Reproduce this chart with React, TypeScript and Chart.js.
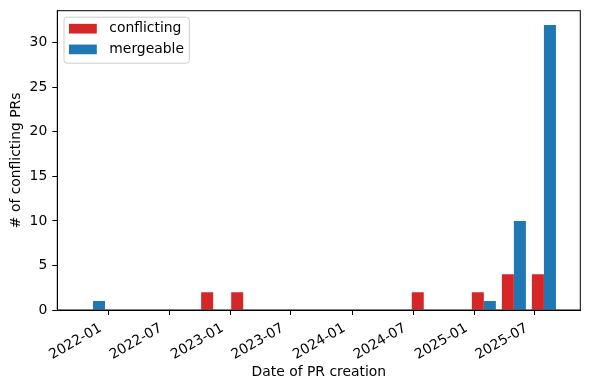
import React, { useEffect, useRef } from 'react';
import { Chart, registerables } from 'chart.js';

Chart.register(...registerables);

// Histogram bin centers (dates) and counts per bin
const binCenters = [
  '2021-11-15', '2022-02-13', '2022-05-14', '2022-08-12',
  '2022-11-10', '2023-02-08', '2023-05-09', '2023-08-07',
  '2023-11-06', '2024-02-04', '2024-05-04', '2024-08-02',
  '2024-10-31', '2025-01-29', '2025-04-29', '2025-07-28',
];
const conflicting = [0, 0, 0, 0, 2, 2, 0, 0, 0, 0, 0, 2, 0, 2, 4, 4];
const mergeable = [1, 0, 0, 0, 0, 0, 0, 0, 0, 0, 0, 0, 0, 1, 10, 32];

const xTickDates = [
  '2022-01-01', '2022-07-01', '2023-01-01', '2023-07-01',
  '2024-01-01', '2024-07-01', '2025-01-01', '2025-07-01',
];
const xTickLabels = [
  '2022-01', '2022-07', '2023-01', '2023-07',
  '2024-01', '2024-07', '2025-01', '2025-07',
];
const xRange = ['2021-07-31', '2025-11-14'];
const yTickValues = [0, 5, 10, 15, 20, 25, 30];
const yMax = 33.6;

const seriesNames = ['conflicting', 'mergeable'];
const seriesColors = ['#d62728', '#1f77b4'];

const DAY = 86400000;
const toDay = (s: string) => Date.parse(s + 'T00:00:00Z') / DAY;

const FONT = '"DejaVu Sans", sans-serif';
const FS = 13.9;

const framePlugin = {
  id: 'frame',
  afterDatasetsDraw(chart: any) {
    const { ctx, chartArea: a } = chart;
    ctx.save();
    ctx.strokeStyle = '#000';
    ctx.lineWidth = 1;
    ctx.strokeRect(a.left, a.top, a.right - a.left, a.bottom - a.top);
    ctx.restore();
  },
};

const legendPlugin = {
  id: 'innerLegend',
  afterDraw(chart: any) {
    const { ctx, chartArea: a } = chart;
    const x0 = a.left + 6.7;
    const y0 = a.top + 6.5;
    const w = 125.3;
    const h = 46;
    const r = 3;
    ctx.save();
    ctx.beginPath();
    ctx.moveTo(x0 + r, y0);
    ctx.lineTo(x0 + w - r, y0);
    ctx.quadraticCurveTo(x0 + w, y0, x0 + w, y0 + r);
    ctx.lineTo(x0 + w, y0 + h - r);
    ctx.quadraticCurveTo(x0 + w, y0 + h, x0 + w - r, y0 + h);
    ctx.lineTo(x0 + r, y0 + h);
    ctx.quadraticCurveTo(x0, y0 + h, x0, y0 + h - r);
    ctx.lineTo(x0, y0 + r);
    ctx.quadraticCurveTo(x0, y0, x0 + r, y0);
    ctx.closePath();
    ctx.fillStyle = 'rgba(255,255,255,0.8)';
    ctx.fill();
    ctx.strokeStyle = '#cccccc';
    ctx.lineWidth = 1;
    ctx.stroke();
    ctx.font = `${FS}px ${FONT}`;
    ctx.textBaseline = 'middle';
    ctx.textAlign = 'left';
    chart.data.datasets.forEach((ds: any, i: number) => {
      const cy = y0 + 11.5 + i * 20.7;
      ctx.fillStyle = ds.backgroundColor;
      ctx.fillRect(x0 + 5, cy - 4.85, 27.8, 9.7);
      ctx.fillStyle = '#000';
      ctx.fillText(ds.label, x0 + 45.3, cy);
    });
    ctx.restore();
  },
};

export default function App() {
  const ref = useRef<HTMLCanvasElement | null>(null);

  useEffect(() => {
    if (!ref.current) return;
    const xs = binCenters.map(toDay);
    const chart = new Chart(ref.current, {
      type: 'bar',
      data: {
        datasets: [conflicting, mergeable].map((vals, i) => ({
          label: seriesNames[i],
          data: vals.map((v, j) => ({ x: xs[j], y: v })),
          backgroundColor: seriesColors[i],
          borderWidth: 0,
          categoryPercentage: 0.8,
          barPercentage: 1.0,
        })),
      },
      options: {
        responsive: false,
        animation: false,
        devicePixelRatio: 1,
        layout: { padding: { top: 10.7, right: 9.7, left: 0, bottom: 0 } },
        plugins: {
          legend: { display: false },
          tooltip: { enabled: false },
        },
        scales: {
          x: {
            type: 'linear',
            offset: false,
            min: toDay(xRange[0]),
            max: toDay(xRange[1]),
            afterBuildTicks: (scale: any) => {
              scale.ticks = xTickDates.map((d) => ({ value: toDay(d) }));
            },
            afterFit: (scale: any) => {
              scale.height = 80;
              scale.paddingLeft = 0;
              scale.paddingRight = 0;
            },
            grid: {
              offset: false,
              drawOnChartArea: false,
              drawTicks: true,
              tickLength: 5,
              color: '#000',
            },
            border: { display: true, color: '#000', width: 1 },
            ticks: {
              autoSkip: false,
              maxRotation: 30,
              minRotation: 30,
              padding: 5,
              labelOffset: -8,
              color: '#000',
              font: { family: FONT, size: FS },
              callback: (_v: any, i: number) => xTickLabels[i],
            },
            title: {
              display: true,
              text: 'Date of PR creation',
              color: '#000',
              font: { family: FONT, size: FS },
              padding: { top: 0, bottom: 9.7 },
            },
          },
          y: {
            type: 'linear',
            min: 0,
            max: yMax,
            afterBuildTicks: (scale: any) => {
              scale.ticks = yTickValues.map((v) => ({ value: v }));
            },
            afterFit: (scale: any) => {
              scale.width = 57.3;
              scale.paddingTop = 0;
              scale.paddingBottom = 0;
            },
            grid: {
              drawOnChartArea: false,
              drawTicks: true,
              tickLength: 5,
              color: '#000',
            },
            border: { display: true, color: '#000', width: 1 },
            ticks: {
              padding: 5,
              color: '#000',
              font: { family: FONT, size: FS },
            },
            title: {
              display: true,
              text: '# of conflicting PRs',
              color: '#000',
              font: { family: FONT, size: FS },
              padding: { top: 7.7, bottom: 0 },
            },
          },
        },
      } as any,
      plugins: [framePlugin, legendPlugin],
    });
    return () => chart.destroy();
  }, []);

  return (
    <div style={{ position: 'fixed', left: 0, top: 0, width: 590, height: 390, background: '#fff' }}>
      <canvas ref={ref} width={590} height={390} />
    </div>
  );
}
